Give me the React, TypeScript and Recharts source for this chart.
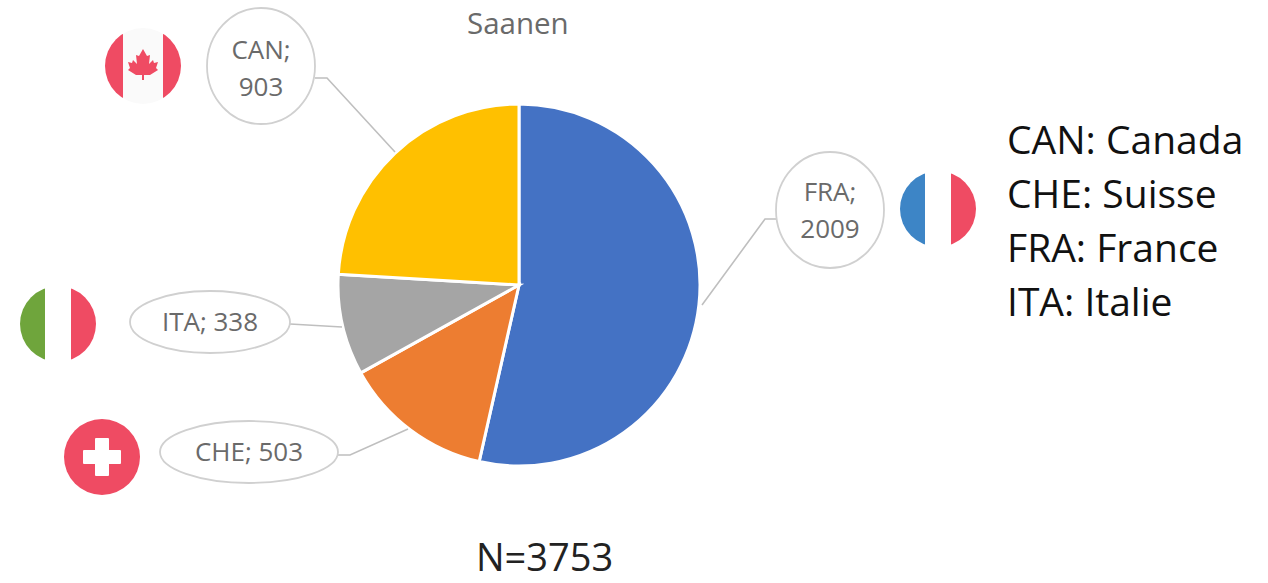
import React from "react";
import { PieChart, Pie, Cell } from "recharts";

const categories = ["FRA", "CHE", "ITA", "CAN"];
const values = [2009, 503, 338, 903];
const colors = ["#4472C4", "#ED7D31", "#A5A5A5", "#FFC000"];
const legendLines = ["CAN: Canada", "CHE: Suisse", "FRA: France", "ITA: Italie"];
const chartTitle = "Saanen";
const footer = "N=3753";

const tableData = categories.map((name, i) => ({ name, value: values[i] }));

const FONT = "'Open Sans', sans-serif";
const RED = "#EF4B63";
const R = 38;

type Band = { left: string; mid: string; right: string };

const StripedFlag = ({ cx, cy, id, band, half, children }: { cx: number; cy: number; id: string; band: Band; half: number; children?: React.ReactNode }) => (
  <g>
    <clipPath id={id}>
      <circle cx={cx} cy={cy} r={R} />
    </clipPath>
    <g clipPath={`url(#${id})`}>
      <rect x={cx - R} y={cy - R} width={R - half} height={2 * R} fill={band.left} />
      <rect x={cx - half} y={cy - R} width={2 * half} height={2 * R} fill={band.mid} />
      <rect x={cx + half} y={cy - R} width={R - half} height={2 * R} fill={band.right} />
    </g>
    {children}
  </g>
);

const MapleLeaf = ({ cx, cy }: { cx: number; cy: number }) => (
  <path
    transform={`translate(${cx} ${cy})`}
    fill={RED}
    d="M0 -15 L4 -8 L7 -9 L6 0 L10 -4 L11 -1 L15 -2 L13 4 L15 6 L7 11 L1 11 L1 16 L-1 16 L-1 11 L-7 11 L-15 6 L-13 4 L-15 -2 L-11 -1 L-10 -4 L-6 0 L-7 -9 L-4 -8 Z"
  />
);

const SwissFlag = ({ cx, cy }: { cx: number; cy: number }) => (
  <g>
    <circle cx={cx} cy={cy} r={R} fill={RED} />
    <rect x={cx - 19} y={cy - 7} width={38} height={14} rx={1} fill="#fff" />
    <rect x={cx - 7} y={cy - 19} width={14} height={38} rx={1} fill="#fff" />
  </g>
);

const callouts: Record<string, any> = {
  FRA: { ex: 830, ey: 210, rx: 54, ry: 58, dy: 0, lines: ["FRA;", "2009"], path: "M778 219 L765 219 L702 305" },
  CHE: { ex: 249, ey: 452, rx: 89, ry: 31, dy: 2, lines: ["CHE; 503"], path: "M338 455 L350 455 L408 429" },
  ITA: { ex: 210, ey: 322, rx: 80, ry: 31, dy: 2, lines: ["ITA; 338"], path: "M290 324 L342 327" },
  CAN: { ex: 261, ey: 66, rx: 54, ry: 58, dy: 2, lines: ["CAN;", "903"], path: "M315 78 L327 78 L395 152" },
};

const flagFor = (name: string) => {
  if (name === "FRA")
    return <StripedFlag cx={938} cy={209} id="fr" half={13} band={{ left: "#3D85C6", mid: "#fff", right: RED }} />;
  if (name === "ITA")
    return <StripedFlag cx={58} cy={324} id="it" half={13} band={{ left: "#6FA53C", mid: "#fff", right: RED }} />;
  if (name === "CAN")
    return (
      <StripedFlag cx={143} cy={66} id="ca" half={20} band={{ left: RED, mid: "#FAFAFA", right: RED }}>
        <MapleLeaf cx={143} cy={64} />
      </StripedFlag>
    );
  return <SwissFlag cx={102} cy={457} />;
};

const renderCallout = (props: any) => {
  const name = categories[props.index];
  const c = callouts[name];
  const two = c.lines.length === 2;
  return (
    <g key={name}>
      <path d={c.path} fill="none" stroke="#BFBFBF" strokeWidth={1.6} />
      <ellipse cx={c.ex} cy={c.ey} rx={c.rx} ry={c.ry} fill="#fff" stroke="#D0D0D0" strokeWidth={1.8} />
      {c.lines.map((t: string, i: number) => (
        <text
          key={t}
          x={c.ex}
          y={(two ? c.ey - 16 + i * 37 : c.ey) + c.dy}
          textAnchor="middle"
          dominantBaseline="middle"
          fontFamily={FONT}
          fontSize={26}
          fill="#6A6A6A"
        >
          {t}
        </text>
      ))}
      {flagFor(name)}
    </g>
  );
};

const textStyle: React.CSSProperties = { position: "absolute", fontFamily: FONT, whiteSpace: "nowrap", lineHeight: 1 };

export default function App() {
  return (
    <div style={{ position: "absolute", left: 0, top: 0, width: 1268, height: 583, background: "#fff", overflow: "hidden" }}>
      <PieChart width={1268} height={583} margin={{ top: 0, right: 0, bottom: 0, left: 0 }}>
        <Pie
          data={tableData}
          dataKey="value"
          nameKey="name"
          cx={519}
          cy={285}
          outerRadius={181}
          startAngle={90}
          endAngle={-270}
          stroke="#fff"
          strokeWidth={3}
          isAnimationActive={false}
          label={renderCallout}
          labelLine={false}
        >
          {tableData.map((d, i) => (
            <Cell key={d.name} fill={colors[i]} />
          ))}
        </Pie>
      </PieChart>
      <div style={{ ...textStyle, left: 467, top: 8, fontSize: 29.5, color: "#6A6A6A" }}>{chartTitle}</div>
      <div style={{ ...textStyle, left: 476, top: 537, fontSize: 38, color: "#222" }}>{footer}</div>
      {legendLines.map((t, i) => (
        <div key={t} style={{ ...textStyle, left: 1007, top: 119 + i * 54, fontSize: 39, color: "#111" }}>
          {t}
        </div>
      ))}
    </div>
  );
}
